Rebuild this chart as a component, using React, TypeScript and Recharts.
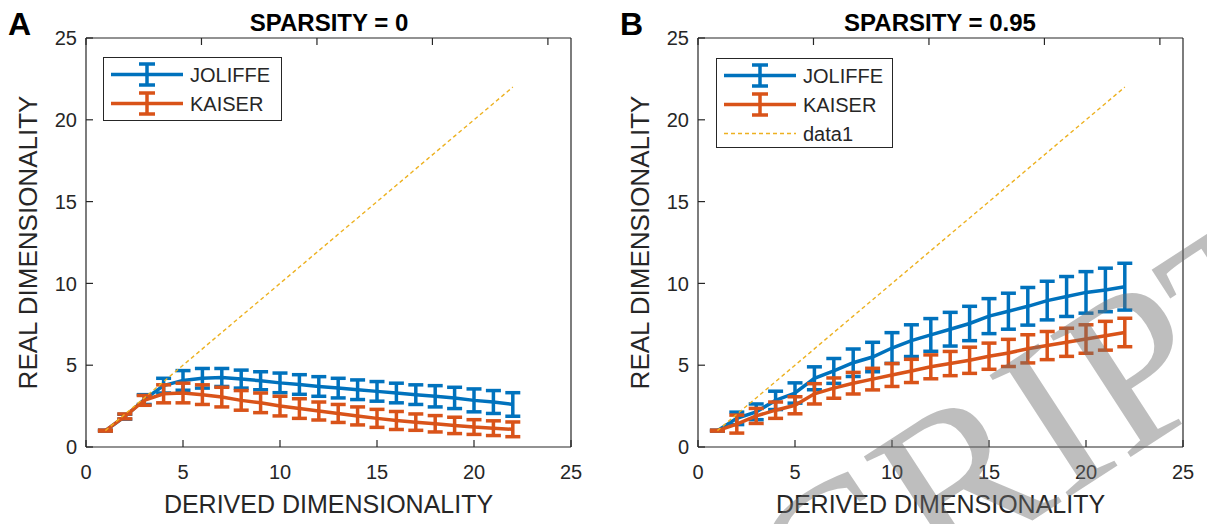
import { LineChart, Line, XAxis, YAxis, ErrorBar, Legend } from "recharts";

const BLUE = "#0072BD";
const ORANGE = "#D95319";
const GOLD = "#EDB120";
const AXIS = "#262626";

const dims = [1, 2, 3, 4, 5, 6, 7, 8, 9, 10, 11, 12, 13, 14, 15, 16, 17, 18, 19, 20, 21, 22];
const diag = [1, 2, 3, 4, 5, 6, 7, 8, 9, 10, 11, 12, 13, 14, 15, 16, 17, 18, 19, 20, 21, 22];
const ticks = [0, 5, 10, 15, 20, 25];

// sparsity = 0
const jolA = [1.0, 1.85, 2.9, 3.75, 4.07, 4.2, 4.25, 4.15, 4.05, 3.92, 3.82, 3.7, 3.6, 3.5, 3.4, 3.3, 3.2, 3.1, 3.0, 2.85, 2.75, 2.6];
const jolAErr = [0.03, 0.15, 0.3, 0.45, 0.6, 0.6, 0.55, 0.55, 0.55, 0.6, 0.6, 0.6, 0.6, 0.6, 0.6, 0.6, 0.6, 0.65, 0.65, 0.7, 0.7, 0.72];
const kaiA = [1.0, 1.87, 2.85, 3.25, 3.3, 3.2, 3.05, 2.85, 2.7, 2.5, 2.35, 2.2, 2.05, 1.9, 1.75, 1.62, 1.52, 1.42, 1.32, 1.22, 1.15, 1.08];
const kaiAErr = [0.03, 0.15, 0.3, 0.55, 0.6, 0.6, 0.6, 0.6, 0.6, 0.6, 0.6, 0.55, 0.55, 0.55, 0.55, 0.55, 0.5, 0.5, 0.5, 0.45, 0.45, 0.45];

// sparsity = 0.95
const jolB = [1.0, 1.75, 2.15, 2.85, 3.3, 4.2, 4.65, 5.15, 5.5, 6.05, 6.5, 6.85, 7.2, 7.55, 8.0, 8.3, 8.6, 8.95, 9.2, 9.45, 9.6, 9.8];
const jolBErr = [0.03, 0.38, 0.48, 0.56, 0.62, 0.7, 0.76, 0.84, 0.9, 0.94, 0.97, 1.0, 1.03, 1.05, 1.07, 1.1, 1.15, 1.18, 1.22, 1.27, 1.33, 1.43];
const kaiB = [1.0, 1.4, 1.9, 2.25, 2.55, 3.25, 3.6, 3.9, 4.15, 4.4, 4.65, 4.9, 5.1, 5.3, 5.55, 5.75, 6.0, 6.2, 6.4, 6.6, 6.8, 7.0];
const kaiBErr = [0.03, 0.55, 0.46, 0.5, 0.52, 0.62, 0.62, 0.66, 0.66, 0.7, 0.71, 0.73, 0.74, 0.8, 0.8, 0.83, 0.86, 0.86, 0.86, 0.87, 0.88, 0.87];

const tableA = dims.map((x, i) => ({ x, jol: jolA[i], jolErr: jolAErr[i], kai: kaiA[i], kaiErr: kaiAErr[i], diag: diag[i] }));
const tableB = dims.map((x, i) => ({ x, jol: jolB[i], jolErr: jolBErr[i], kai: kaiB[i], kaiErr: kaiBErr[i], diag: diag[i] }));

const LegendBox = ({ payload }: any) => {
  const items = (payload || []).filter((p: any) => p.type !== "none");
  return (
    <div style={{ border: `1px solid ${AXIS}`, background: "#fff", boxSizing: "border-box", height: "100%", paddingTop: 2 }}>
      {items.map((p: any) => {
        const dashed = p.value === "data1";
        return (
          <div key={p.value} style={{ display: "flex", alignItems: "center", height: 29 }}>
            <svg width={86} height={29} style={{ flex: "none" }}>
              {dashed ? (
                <line x1={7} x2={79} y1={14.5} y2={14.5} stroke={GOLD} strokeWidth={1.4} strokeDasharray="4 3" />
              ) : (
                <g stroke={p.color} strokeWidth={3.5}>
                  <line x1={7} x2={79} y1={14.5} y2={14.5} />
                  <line x1={43} x2={43} y1={4} y2={25} />
                  <line x1={35} x2={51} y1={4} y2={4} />
                  <line x1={35} x2={51} y1={25} y2={25} />
                </g>
              )}
            </svg>
            <span style={{ fontSize: 20, color: AXIS, lineHeight: 1 }}>{p.value}</span>
          </div>
        );
      })}
    </div>
  );
};

function Panel({ data, width, yAxisWidth, right, legendPos, showDiagLegend }: any) {
  return (
    <LineChart width={width} height={524} data={data} margin={{ top: 37, right, bottom: 11, left: 0 }}>
      <XAxis
        dataKey="x"
        type="number"
        domain={[0, 25]}
        ticks={ticks}
        height={66}
        tickSize={-7}
        tickMargin={25}
        stroke={AXIS}
        strokeWidth={1.2}
        tick={{ fill: AXIS, fontSize: 20 }}
        label={{ value: "DERIVED DIMENSIONALITY", position: "insideBottom", offset: 0, fill: AXIS, fontSize: 25 }}
      />
      <XAxis
        xAxisId="top"
        orientation="top"
        type="number"
        domain={[0, 25]}
        ticks={ticks}
        height={1}
        tickSize={-7}
        stroke={AXIS}
        strokeWidth={1.2}
        tickFormatter={() => ""}
      />
      <YAxis
        type="number"
        domain={[0, 25]}
        ticks={ticks}
        width={yAxisWidth}
        tickSize={-7}
        tickMargin={16}
        stroke={AXIS}
        strokeWidth={1.2}
        tick={{ fill: AXIS, fontSize: 20 }}
        label={{
          value: "REAL DIMENSIONALITY",
          angle: -90,
          position: "insideLeft",
          offset: yAxisWidth - 58,
          fill: AXIS,
          fontSize: 26,
          style: { textAnchor: "middle" },
        }}
      />
      <YAxis
        yAxisId="right"
        orientation="right"
        type="number"
        domain={[0, 25]}
        ticks={ticks}
        width={1}
        tickSize={-7}
        stroke={AXIS}
        strokeWidth={1.2}
        tickFormatter={() => ""}
      />
      <Legend
        verticalAlign="middle"
        align="center"
        content={<LegendBox />}
        wrapperStyle={{ left: legendPos.left, top: legendPos.top, width: legendPos.width, height: legendPos.height }}
      />
      <Line dataKey="jol" name="JOLIFFE" stroke={BLUE} strokeWidth={3.5} dot={false} activeDot={false} isAnimationActive={false}>
        <ErrorBar dataKey="jolErr" direction="y" width={7.5} stroke={BLUE} strokeWidth={3.5} isAnimationActive={false} />
      </Line>
      <Line dataKey="kai" name="KAISER" stroke={ORANGE} strokeWidth={3.5} dot={false} activeDot={false} isAnimationActive={false}>
        <ErrorBar dataKey="kaiErr" direction="y" width={7.5} stroke={ORANGE} strokeWidth={3.5} isAnimationActive={false} />
      </Line>
      <Line
        dataKey="diag"
        name="data1"
        stroke={GOLD}
        strokeWidth={1.4}
        strokeDasharray="4 3"
        dot={false}
        activeDot={false}
        legendType={showDiagLegend ? "line" : "none"}
        isAnimationActive={false}
      />
    </LineChart>
  );
}

const titleStyle: any = { position: "absolute", top: 11, fontSize: 24, fontWeight: "bold", lineHeight: 1, color: "#000", transform: "translateX(-50%)", whiteSpace: "nowrap" };
const letterStyle: any = { position: "absolute", top: 8, fontSize: 32, fontWeight: "bold", lineHeight: 1, color: "#000" };

export default function App() {
  return (
    <div
      style={{
        position: "absolute",
        left: 0,
        top: 0,
        width: 1207,
        height: 524,
        background: "#fff",
        overflow: "hidden",
        fontFamily: "'Liberation Sans', Arial, sans-serif",
      }}
    >
      <div style={{ position: "absolute", left: 0, top: 0 }}>
        <Panel data={tableA} width={600} yAxisWidth={86} right={28} legendPos={{ left: 103, top: 57, width: 179, height: 64 }} showDiagLegend={false} />
      </div>
      <div style={{ position: "absolute", left: 600, top: 0 }}>
        <Panel data={tableB} width={607} yAxisWidth={98} right={23} legendPos={{ left: 116, top: 58, width: 177, height: 90 }} showDiagLegend={true} />
      </div>
      <div style={{ ...letterStyle, left: 8 }}>A</div>
      <div style={{ ...letterStyle, left: 620 }}>B</div>
      <div style={{ ...titleStyle, left: 329 }}>SPARSITY = 0</div>
      <div style={{ ...titleStyle, left: 940 }}>SPARSITY = 0.95</div>
      <svg width={1207} height={524} style={{ position: "absolute", left: 0, top: 0, pointerEvents: "none" }}>
        <text
          x={710}
          y={730}
          transform="rotate(-33 710 730)"
          fontFamily="'Liberation Serif', 'Times New Roman', serif"
          fontSize={222}
          fill="#6e6e6e"
          fillOpacity={0.45}
        >
          SCRIPT
        </text>
      </svg>
    </div>
  );
}
